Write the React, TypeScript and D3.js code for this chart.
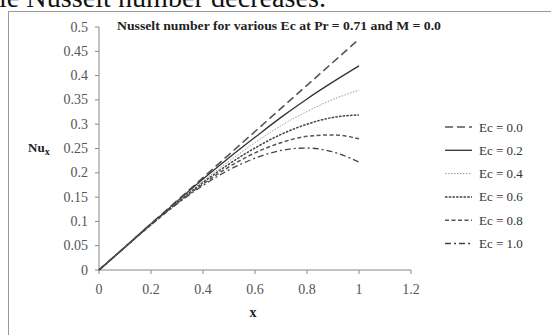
import React from 'react';
import * as d3 from 'd3';

// Nusselt number data
const xs = [0, 0.1, 0.2, 0.3, 0.4, 0.5, 0.6, 0.7, 0.8, 0.9, 1.0];
const ec00 = [0, 0.0475, 0.095, 0.1425, 0.19, 0.2375, 0.285, 0.3325, 0.38, 0.4275, 0.475];
const ec02 = [0, 0.047, 0.095, 0.141, 0.187, 0.231, 0.273, 0.314, 0.352, 0.387, 0.42];
const ec04 = [0, 0.047, 0.094, 0.14, 0.183, 0.224, 0.262, 0.297, 0.326, 0.351, 0.37];
const ec06 = [0, 0.047, 0.094, 0.138, 0.18, 0.218, 0.251, 0.279, 0.3, 0.314, 0.319];
const ec08 = [0, 0.047, 0.093, 0.137, 0.177, 0.212, 0.241, 0.262, 0.275, 0.278, 0.27];
const ec10 = [0, 0.047, 0.093, 0.136, 0.174, 0.206, 0.23, 0.246, 0.251, 0.243, 0.222];

const seriesNames = ['Ec = 0.0', 'Ec = 0.2', 'Ec = 0.4', 'Ec = 0.6', 'Ec = 0.8', 'Ec = 1.0'];
const xTicks = [0, 0.2, 0.4, 0.6, 0.8, 1, 1.2];
const yTicks = [0, 0.05, 0.1, 0.15, 0.2, 0.25, 0.3, 0.35, 0.4, 0.45, 0.5];

const styles = [
  { stroke: '#555', width: 1.6, dash: '8,4' },
  { stroke: '#333', width: 1.3, dash: '' },
  { stroke: '#999', width: 1, dash: '1.5,1.5' },
  { stroke: '#444', width: 1.5, dash: '2.5,1.2' },
  { stroke: '#555', width: 1.5, dash: '4,2.5' },
  { stroke: '#444', width: 1.3, dash: '6,3,2,3' },
];

const App = () => {
  const width = 551;
  const height = 335;
  const all = [ec00, ec02, ec04, ec06, ec08, ec10];

  const xScale = d3.scaleLinear().domain([0, 1.2]).range([99, 411]);
  const yScale = d3.scaleLinear().domain([0, 0.5]).range([270, 27]);

  const line = d3.line<number>()
    .x((_, i) => xScale(xs[i]))
    .y((d) => yScale(d))
    .curve(d3.curveMonotoneX);

  const fmt = (v: number) => String(+v.toFixed(2));
  const serif = '"Liberation Serif", "Times New Roman", serif';

  return (
    <div style={{ position: 'fixed', left: 0, top: 0 }}>
      <svg width={width} height={height} style={{ display: 'block', background: '#fff', fontFamily: serif }}>
        {/* cut-off sentence above the figure */}
        <text x={-1} y={7} fontSize={27} fill="#111" textLength={327} lengthAdjust="spacingAndGlyphs">
          le Nusselt number decreases.
        </text>
        {/* figure frame */}
        <rect x={8.5} y={11.5} width={600} height={400} fill="none" stroke="#999" strokeWidth={1} />

        <text x={117} y={30} fontSize={13} fontWeight="bold" fill="#222" textLength={324} lengthAdjust="spacingAndGlyphs">
          Nusselt number for various Ec at Pr = 0.71 and M = 0.0
        </text>

        {/* y axis */}
        <line x1={99} x2={99} y1={yScale(0.5)} y2={yScale(0)} stroke="#888" />
        {yTicks.map((t) => (
          <g key={'y' + t}>
            <line x1={95} x2={99} y1={yScale(t)} y2={yScale(t)} stroke="#888" />
            <text x={88} y={yScale(t) + 4.5} fontSize={14} fill="#555" textAnchor="end">{fmt(t)}</text>
          </g>
        ))}
        {/* x axis */}
        <line x1={xScale(0)} x2={xScale(1.2)} y1={270} y2={270} stroke="#888" />
        {xTicks.map((t) => (
          <g key={'x' + t}>
            <line x1={xScale(t)} x2={xScale(t)} y1={270} y2={274} stroke="#888" />
            <text x={xScale(t)} y={294} fontSize={14} fill="#555" textAnchor="middle">{fmt(t)}</text>
          </g>
        ))}

        <text x={253} y={317} fontSize={14} fontWeight="bold" textAnchor="middle" fill="#222">x</text>
        <text x={28} y={152} fontSize={13} fontWeight="bold" fill="#222">
          Nu<tspan fontSize={10} dy={3}>x</tspan>
        </text>

        {all.map((s, i) => (
          <path key={'s' + i} d={line(s) || ''} fill="none" stroke={styles[i].stroke}
            strokeWidth={styles[i].width} strokeDasharray={styles[i].dash} />
        ))}

        {seriesNames.map((n, i) => {
          const y = 127 + i * 23.3;
          return (
            <g key={n}>
              <line x1={445} x2={472} y1={y} y2={y} stroke={styles[i].stroke}
                strokeWidth={styles[i].width} strokeDasharray={styles[i].dash} />
              <text x={479} y={y + 4.5} fontSize={13} fill="#333">{n}</text>
            </g>
          );
        })}
      </svg>
    </div>
  );
};

export default App;
